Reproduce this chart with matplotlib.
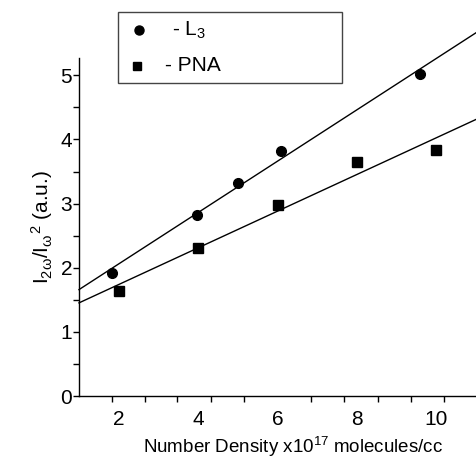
import numpy as np
import matplotlib
matplotlib.use("Agg")
import matplotlib.pyplot as plt
from matplotlib.lines import Line2D
from matplotlib.patches import Rectangle

# Data
l3_x = [1.82, 3.98, 5.0, 6.09, 9.6]
l3_y = [1.92, 2.82, 3.32, 3.82, 5.02]
pna_x = [2.0, 4.0, 6.0, 8.0, 10.0]
pna_y = [1.64, 2.31, 2.98, 3.65, 3.83]
x_ticks = [2, 4, 6, 8, 10]
x_minor_marks = [1.82, 2.66, 3.48, 4.32, 5.16, 6.0, 6.84, 7.68, 8.52, 9.36, 10.2]
y_ticks = [0, 1, 2, 3, 4, 5]
legend_labels = [r'- L$_3$', '- PNA']

plt.rcParams['font.family'] = ['Liberation Sans', 'DejaVu Sans']
plt.rcParams['mathtext.fontset'] = 'custom'
plt.rcParams['mathtext.rm'] = 'Liberation Sans'
plt.rcParams['mathtext.it'] = 'Liberation Sans:italic'

W, H = 476, 459
fig = plt.figure(figsize=(W/100, H/100), dpi=100)
ax = fig.add_axes([79/W, 1-396/H, 1-79/W, (396-58)/H])

ax.plot(l3_x, l3_y, 'o', color='black', markersize=7, zorder=3)
ax.plot(pna_x, pna_y, 's', color='black', markersize=6.5, zorder=3)

xs = np.array([1.0, 11.0])
for xd, yd in ((l3_x, l3_y), (pna_x, pna_y)):
    m, b = np.polyfit(xd, yd, 1)
    ax.plot(xs, m*xs + b, color='black', linewidth=1.0, clip_on=False)

ax.set_xlim(1.0, 11.0)
ax.set_ylim(0, 5.27)
ax.spines['top'].set_visible(False)
ax.spines['right'].set_visible(False)
for s in ('left', 'bottom'):
    ax.spines[s].set_linewidth(1.0)

ax.set_xticks(x_ticks)
ax.set_xticklabels([str(t) for t in x_ticks])
ax.set_xticks(x_minor_marks, minor=True)
ax.tick_params(axis='x', which='major', length=0, pad=10, labelsize=15)
ax.tick_params(axis='x', which='minor', length=4, width=1, direction='out')

ax.set_yticks(y_ticks)
ax.set_yticks(np.arange(0.5, 5.5, 1.0), minor=True)
ax.tick_params(axis='y', which='major', length=4, width=1, pad=1, labelsize=15)
ax.tick_params(axis='y', which='minor', length=4, width=1)

ax.set_xlabel(r'Number Density x10$^{17}$ molecules/cc', fontsize=13.5)
ax.xaxis.set_label_coords((293-79)/397, -(435-396)/338)
ax.set_ylabel(r'I$_{2\mathrm{\omega}}$/I$_{\mathrm{\omega}}$$^{2}$ (a.u.)', fontsize=15, labelpad=4)

# Legend box
fig.add_artist(Rectangle((118/W, 1-83/H), (342-118)/W, (83-12)/H, transform=fig.transFigure,
                         facecolor='white', edgecolor='#444444', linewidth=1.0))
fig.add_artist(Line2D([139/W], [1-30/H], marker='o', color='black', markersize=6.5,
                      linestyle='none', transform=fig.transFigure))
fig.add_artist(Line2D([137/W], [1-66/H], marker='s', color='black', markersize=5.5,
                      linestyle='none', transform=fig.transFigure))
fig.text(172/W, 1-30/H, legend_labels[0], fontsize=15, va='center', ha='left')
fig.text(165/W, 1-66/H, legend_labels[1], fontsize=15, va='center', ha='left')

fig.savefig('out.png', dpi=100)
